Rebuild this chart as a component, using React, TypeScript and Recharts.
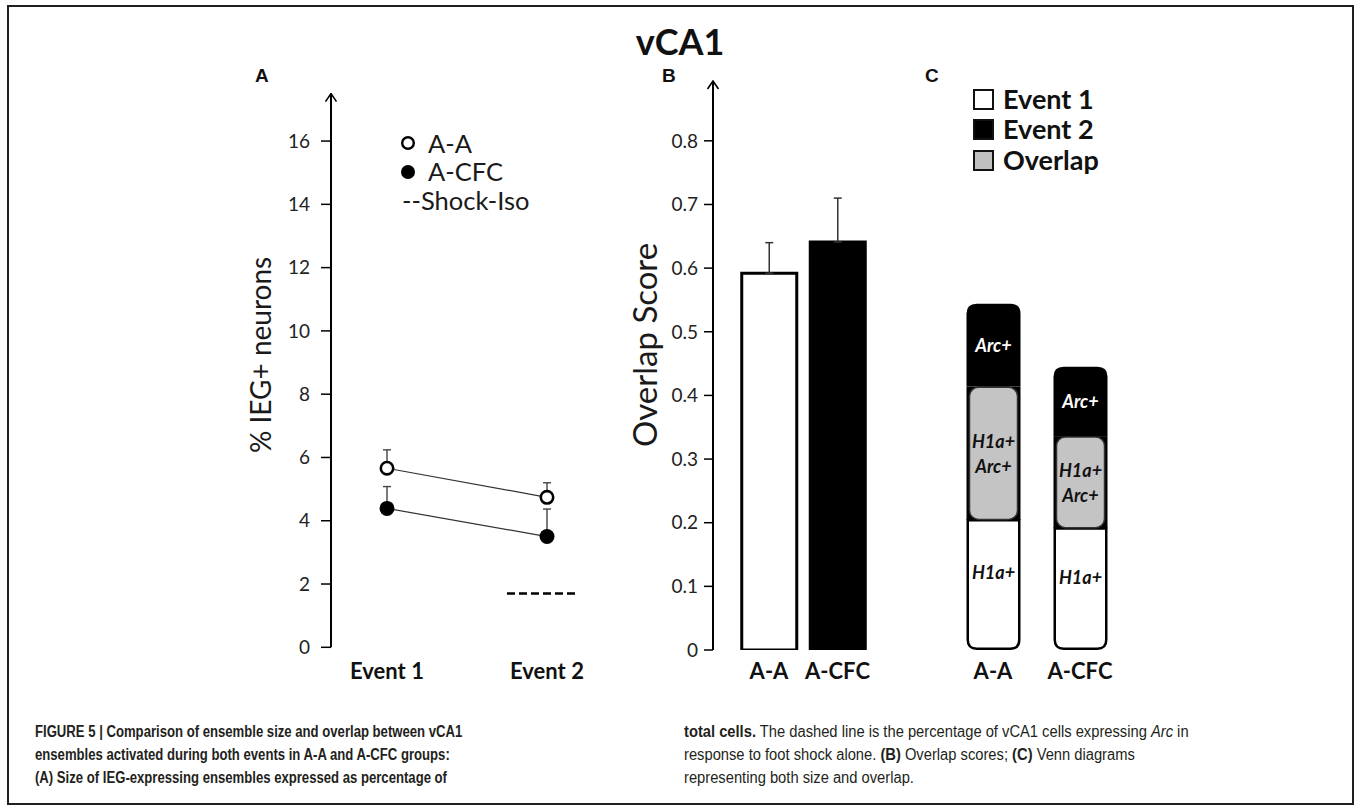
import React from "react";
import {
  LineChart,
  Line,
  BarChart,
  Bar,
  XAxis,
  YAxis,
  ErrorBar,
  Legend,
  LabelList,
  Cell,
} from "recharts";

// panel A: % IEG+ neurons per event
const events = ["Event 1", "Event 2"];
const eventX = [1, 2];
const aaPct = [5.66, 4.74];
const aaPctErr = [0.58, 0.46];
const cfcPct = [4.39, 3.5];
const cfcPctErr = [0.69, 0.87];
const shockIsoX = [1.75, 2.2];
const shockIsoPct = [1.7, 1.7];
const pctTicks = [0, 2, 4, 6, 8, 10, 12, 14, 16];

// panel B: overlap score per group
const groups = ["A-A", "A-CFC"];
const overlapScore = [0.592, 0.641];
const overlapErr = [0.048, 0.069];
const scoreTicks = [0, 0.1, 0.2, 0.3, 0.4, 0.5, 0.6, 0.7, 0.8];

// panel C: venn stacks, same scale as B
const h1aOnly = [0.204, 0.191];
const bothIeg = [0.21, 0.145];
const arcOnly = [0.13, 0.109];

const FONT = "Lato, 'Open Sans', sans-serif";
const INK = "#1a1a1a";

const aaData = eventX.map((x, i) => ({ x, y: aaPct[i], err: [0, aaPctErr[i]] }));
const cfcData = eventX.map((x, i) => ({ x, y: cfcPct[i], err: [0, cfcPctErr[i]] }));
const shockData = shockIsoX.map((x, i) => ({ x, y: shockIsoPct[i] }));
const scoreData = groups.map((group, i) => ({ group, score: overlapScore[i], err: [0, overlapErr[i]] }));
const vennData = groups.map((group, i) => ({ group, h1a: h1aOnly[i], both: bothIeg[i], arc: arcOnly[i] }));

function rounded(x: number, y: number, w: number, h: number, tl: number, tr: number, br: number, bl: number) {
  return `M${x + tl},${y} H${x + w - tr} Q${x + w},${y} ${x + w},${y + tr} V${y + h - br} Q${x + w},${y + h} ${x + w - br},${y + h} H${x + bl} Q${x},${y + h} ${x},${y + h - bl} V${y + tl} Q${x},${y} ${x + tl},${y} Z`;
}

const WhiteSeg = (p: any) => (
  <path d={rounded(p.x + 1.25, p.y, p.width - 2.5, p.height - 1.25, 0, 0, 9, 9)} fill="#fff" stroke="#000" strokeWidth={2.5} />
);

const GraySeg = (p: any) => (
  <g>
    <rect x={p.x} y={p.y} width={p.width} height={p.height} fill="#000" />
    <rect x={p.x + 3} y={p.y + 0.75} width={p.width - 6} height={p.height - 1.5} rx={9} fill="#c4c4c4" stroke="#333" strokeWidth={1.5} />
  </g>
);

const BlackSeg = (p: any) => <path d={rounded(p.x, p.y, p.width, p.height, 10, 10, 0, 0)} fill="#000" />;

const segLabel = (lines: string[], color: string, pos = 0.5) => (p: any) => {
  const cx = p.x + p.width / 2;
  const lh = 25;
  const cy = p.y + p.height * pos - ((lines.length - 1) * lh) / 2;
  return (
    <text x={cx} y={cy} textAnchor="middle" dominantBaseline="central" fill={color} fontSize={18} fontStyle="italic" fontWeight={700} fontFamily={FONT}>
      {lines.map((l, i) => (
        <tspan key={i} x={cx} dy={i === 0 ? 0 : lh}>
          {l}
        </tspan>
      ))}
    </text>
  );
};

const AxisTitle = (props: any) => {
  const { viewBox, text, dx, dy, size } = props;
  const cx = viewBox.x + dx;
  const cy = viewBox.y + viewBox.height / 2 + dy;
  return (
    <text x={cx} y={cy} transform={`rotate(-90, ${cx}, ${cy})`} textAnchor="middle" dominantBaseline="central" fontSize={size} fill={INK} fontFamily={FONT}>
      {text}
    </text>
  );
};

const LegendA = () => {
  const row: React.CSSProperties = { display: "flex", alignItems: "center", height: 28.5, whiteSpace: "nowrap" };
  return (
    <div style={{ fontFamily: FONT, fontSize: 25.5, color: INK, lineHeight: "28.5px" }}>
      <div style={row}>
        <svg width={14} height={16} style={{ marginRight: 13 }}>
          <circle cx={7} cy={8} r={5.8} fill="#fff" stroke="#000" strokeWidth={2.4} />
        </svg>
        A-A
      </div>
      <div style={row}>
        <svg width={14} height={16} style={{ marginRight: 13 }}>
          <circle cx={7} cy={8} r={7} fill="#000" />
        </svg>
        A-CFC
      </div>
      <div style={{ ...row, paddingLeft: 1 }}>--Shock-Iso</div>
    </div>
  );
};

const LegendC = () => {
  const items = [
    { name: "Event 1", fill: "#fff" },
    { name: "Event 2", fill: "#000" },
    { name: "Overlap", fill: "#c0c0c0" },
  ];
  return (
    <div style={{ fontFamily: FONT, fontSize: 27, fontWeight: 700, color: "#111", lineHeight: "30.5px" }}>
      {items.map((it) => (
        <div key={it.name} style={{ display: "flex", alignItems: "center", height: 30.5, whiteSpace: "nowrap" }}>
          <span style={{ display: "inline-block", width: 21, height: 21, boxSizing: "border-box", border: "2px solid #111", background: it.fill, marginRight: 9 }} />
          {it.name}
        </div>
      ))}
    </div>
  );
};

const tickStyle = { fontSize: 19, fill: "#222", fontFamily: FONT };
const catTick = { fontSize: 22, fontWeight: 700, fill: "#111", fontFamily: FONT };
const axisLine = { stroke: "#000", strokeWidth: 2, markerStart: "url(#axisArrow)" };

const captionFont = "'Liberation Sans Narrow', 'Liberation Sans', Arial, sans-serif";
const captionLine: React.CSSProperties = { whiteSpace: "nowrap", height: 23 };

export default function App() {
  return (
    <div style={{ position: "absolute", left: 0, top: 0, width: 1356, height: 806, background: "#fff", overflow: "hidden" }}>
      <svg width={0} height={0} style={{ position: "absolute" }}>
        <defs>
          <marker id="axisArrow" viewBox="0 0 10 14" refX={9} refY={7} markerWidth={10} markerHeight={14} markerUnits="userSpaceOnUse" orient="auto-start-reverse">
            <path d="M1,1.5 L9,7 L1,12.5" fill="none" stroke="#000" strokeWidth={1.6} />
          </marker>
        </defs>
      </svg>

      <div style={{ position: "absolute", left: 7, top: 5, width: 1347, height: 800, boxSizing: "border-box", border: "2px solid #231f20" }} />

      <svg width={1356} height={100} style={{ position: "absolute", left: 0, top: 0 }}>
        <text x={680} y={55} textAnchor="middle" fontFamily={FONT} fontWeight={700} fontSize={36} fill="#111">
          vCA1
        </text>
        <text x={255} y={82} fontFamily="'Liberation Sans', Arial, sans-serif" fontWeight={700} fontSize={19} fill="#111">A</text>
        <text x={662} y={82} fontFamily="'Liberation Sans', Arial, sans-serif" fontWeight={700} fontSize={19} fill="#111">B</text>
        <text x={925} y={82} fontFamily="'Liberation Sans', Arial, sans-serif" fontWeight={700} fontSize={19} fill="#111">C</text>
      </svg>

      {/* A */}
      <div style={{ position: "absolute", left: 200, top: 0 }}>
        <LineChart width={400} height={700} margin={{ top: 93.6, right: 21, bottom: 12.7, left: 0 }}>
          <XAxis
            type="number"
            dataKey="x"
            domain={[0.65, 2.2]}
            ticks={eventX}
            interval={0}
            allowDataOverflow
            tickFormatter={(v) => events[eventX.indexOf(v)]}
            axisLine={false}
            tickLine={false}
            tickSize={0}
            tickMargin={16}
            height={40}
            tick={catTick}
          />
          <YAxis
            type="number"
            domain={[0, 17.5]}
            ticks={pctTicks}
            interval={0}
            allowDataOverflow
            width={131}
            tickSize={10}
            tickMargin={11}
            axisLine={axisLine}
            tickLine={{ stroke: "#000", strokeWidth: 1.5 }}
            tick={tickStyle}
            label={<AxisTitle text="% IEG+ neurons" dx={60} dy={-15.5} size={28} />}
          />
          <Legend
            layout="horizontal"
            verticalAlign="middle"
            align="center"
            wrapperStyle={{ left: 201, top: 128.75, width: "auto", height: "auto" }}
            content={() => <LegendA />}
          />
          <Line data={shockData} dataKey="y" name="Shock-Iso" stroke="#000" strokeWidth={2.6} strokeDasharray="8 4" dot={false} activeDot={false} isAnimationActive={false} />
          <Line data={cfcData} dataKey="y" name="A-CFC" stroke="#333" strokeWidth={1.2} dot={{ r: 7.5, fill: "#000", stroke: "#000", strokeWidth: 0 }} activeDot={false} isAnimationActive={false}>
            <ErrorBar dataKey="err" width={4} stroke="#444" strokeWidth={1.4} />
          </Line>
          <Line data={aaData} dataKey="y" name="A-A" stroke="#333" strokeWidth={1.2} dot={{ r: 6.2, fill: "#fff", stroke: "#000", strokeWidth: 2.6 }} activeDot={false} isAnimationActive={false}>
            <ErrorBar dataKey="err" width={4} stroke="#444" strokeWidth={1.4} />
          </Line>
        </LineChart>
      </div>

      {/* B */}
      <div style={{ position: "absolute", left: 560, top: 0 }}>
        <BarChart width={340} height={700} data={scoreData} margin={{ top: 81, right: 20, bottom: 10, left: 0 }}>
          <XAxis
            dataKey="group"
            padding={{ left: 21.75, right: 8.25 }}
            axisLine={false}
            tickLine={false}
            tickSize={0}
            tickMargin={13}
            height={40}
            interval={0}
            tick={catTick}
          />
          <YAxis
            type="number"
            domain={[0, 0.894]}
            ticks={scoreTicks}
            interval={0}
            allowDataOverflow
            width={153}
            tickSize={9}
            tickMargin={6}
            tickFormatter={(v) => (v === 0 ? "0" : v.toFixed(1))}
            axisLine={axisLine}
            tickLine={{ stroke: "#000", strokeWidth: 1.5 }}
            tick={tickStyle}
            label={<AxisTitle text="Overlap Score" dx={83.5} dy={-20.5} size={33} />}
          />
          <Bar dataKey="score" barSize={55} stroke="#000" strokeWidth={3} isAnimationActive={false}>
            {scoreData.map((d, i) => (
              <Cell key={d.group} fill={i === 0 ? "#fff" : "#000"} />
            ))}
            <ErrorBar dataKey="err" width={4} stroke="#333" strokeWidth={1.5} />
          </Bar>
        </BarChart>
      </div>

      {/* C */}
      <div style={{ position: "absolute", left: 900, top: 0 }}>
        <BarChart width={300} height={700} data={vennData} margin={{ top: 81, right: 76.5, bottom: 10, left: 49.5 }}>
          <XAxis dataKey="group" axisLine={false} tickLine={false} tickSize={0} tickMargin={13} height={40} interval={0} tick={catTick} />
          <YAxis hide type="number" domain={[0, 0.894]} allowDataOverflow />
          <Legend
            layout="horizontal"
            verticalAlign="middle"
            align="center"
            wrapperStyle={{ left: 73, top: 83.75, width: "auto", height: "auto" }}
            content={() => <LegendC />}
          />
          <Bar dataKey="h1a" stackId="v" barSize={54} shape={WhiteSeg} isAnimationActive={false}>
            <LabelList dataKey="h1a" content={segLabel(["H1a+"], "#111", 0.4)} />
          </Bar>
          <Bar dataKey="both" stackId="v" barSize={54} shape={GraySeg} isAnimationActive={false}>
            <LabelList dataKey="both" content={segLabel(["H1a+", "Arc+"], "#111")} />
          </Bar>
          <Bar dataKey="arc" stackId="v" barSize={54} shape={BlackSeg} isAnimationActive={false}>
            <LabelList dataKey="arc" content={segLabel(["Arc+"], "#fff")} />
          </Bar>
        </BarChart>
      </div>

      {/* caption */}
      <div style={{ position: "absolute", left: 35, top: 720, fontFamily: captionFont, fontSize: 16, lineHeight: "23px", color: "#231f20", fontWeight: 700, transform: "scaleX(0.82)", transformOrigin: "0 0" }}>
        <div style={captionLine}>FIGURE 5 | Comparison of ensemble size and overlap between vCA1</div>
        <div style={captionLine}>ensembles activated during both events in A-A and A-CFC groups:</div>
        <div style={captionLine}>(A) Size of IEG-expressing ensembles expressed as percentage of</div>
      </div>
      <div style={{ position: "absolute", left: 684, top: 720, fontFamily: captionFont, fontSize: 16, lineHeight: "23px", color: "#231f20", transform: "scaleX(0.92)", transformOrigin: "0 0" }}>
        <div style={captionLine}>
          <b>total cells.</b> The dashed line is the percentage of vCA1 cells expressing <i>Arc</i> in
        </div>
        <div style={captionLine}>
          response to foot shock alone. <b>(B)</b> Overlap scores; <b>(C)</b> Venn diagrams
        </div>
        <div style={captionLine}>representing both size and overlap.</div>
      </div>
    </div>
  );
}
